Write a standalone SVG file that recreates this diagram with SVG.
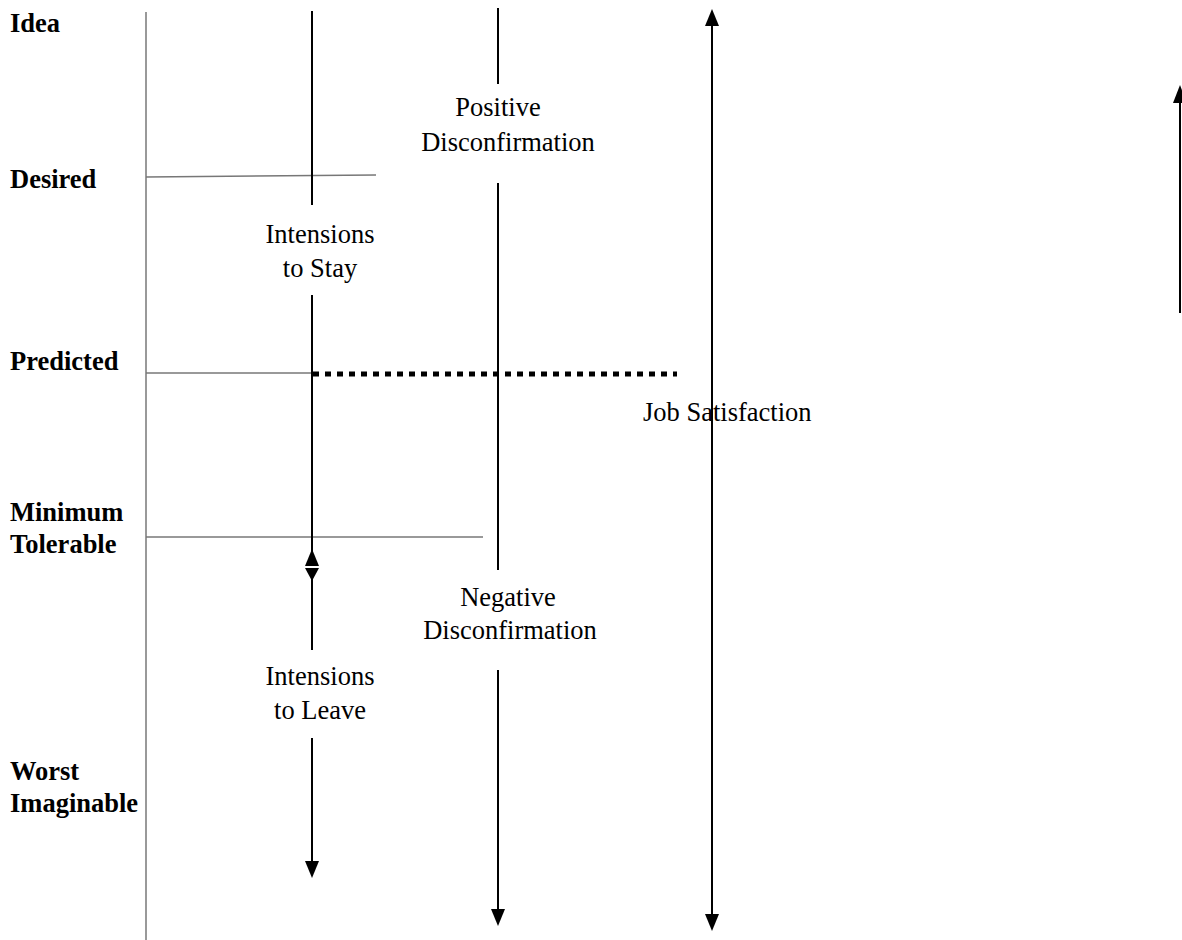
<svg xmlns="http://www.w3.org/2000/svg" width="1182" height="940" viewBox="0 0 1182 940">
<style>
.lbl{font-family:"Liberation Serif","Times New Roman",serif;font-size:26.5px;font-weight:bold;fill:#000}
.txt{font-family:"Liberation Serif","Times New Roman",serif;font-size:26.5px;fill:#000}
.thin{stroke:#777;stroke-width:1.5;fill:none}
.ln{stroke:#000;stroke-width:2;fill:none}
.ah{fill:#000}
</style>
<rect width="1182" height="940" fill="#fff"/>
<g id="labels">
<text class="lbl" x="10" y="32">Idea</text>
<text class="lbl" x="10" y="188">Desired</text>
<text class="lbl" x="10" y="370">Predicted</text>
<text class="lbl" x="10" y="521">Minimum</text>
<text class="lbl" x="10" y="553">Tolerable</text>
<text class="lbl" x="10" y="780">Worst</text>
<text class="lbl" x="10" y="812">Imaginable</text>
</g>
<g id="connectors">
<line class="thin" x1="146" y1="12" x2="146" y2="940"/>
<line class="thin" x1="146" y1="177" x2="376" y2="175"/>
<line class="thin" x1="146" y1="373" x2="313" y2="373"/>
<line class="thin" x1="146" y1="537" x2="483" y2="537"/>
<line class="ln" x1="312" y1="11" x2="312" y2="205"/>
<line class="ln" x1="312" y1="295" x2="312" y2="552"/>
<polygon class="ah" points="312,549 305,566 319,566"/>
<polygon class="ah" points="312,581 305,568 319,568"/>
<line class="ln" x1="312" y1="578" x2="312" y2="650"/>
<line class="ln" x1="312" y1="738" x2="312" y2="862"/>
<polygon class="ah" points="312,878 305,861 319,861"/>
<line class="ln" x1="498" y1="8" x2="498" y2="84"/>
<line class="ln" x1="498" y1="183" x2="498" y2="570"/>
<line class="ln" x1="498" y1="670" x2="498" y2="910"/>
<polygon class="ah" points="498,926 491,909 505,909"/>
<line class="ln" x1="712" y1="24" x2="712" y2="916"/>
<polygon class="ah" points="712,9 705,26 719,26"/>
<polygon class="ah" points="712,931 705,914 719,914"/>
<line x1="313" y1="374" x2="677" y2="374" stroke="#000" stroke-width="5" stroke-dasharray="6,6"/>
<line class="ln" x1="1180" y1="100" x2="1180" y2="313"/>
<polygon class="ah" points="1180,85 1173,103 1187,103"/>
</g>
<g id="texts">
<text class="txt" x="498" y="116" text-anchor="middle">Positive</text>
<text class="txt" x="508" y="151" text-anchor="middle">Disconfirmation</text>
<text class="txt" x="320" y="243" text-anchor="middle">Intensions</text>
<text class="txt" x="320" y="277" text-anchor="middle">to Stay</text>
<text class="txt" x="643" y="421">Job Satisfaction</text>
<text class="txt" x="508" y="606" text-anchor="middle">Negative</text>
<text class="txt" x="510" y="639" text-anchor="middle">Disconfirmation</text>
<text class="txt" x="320" y="685" text-anchor="middle">Intensions</text>
<text class="txt" x="320" y="719" text-anchor="middle">to Leave</text>
</g>
</svg>
